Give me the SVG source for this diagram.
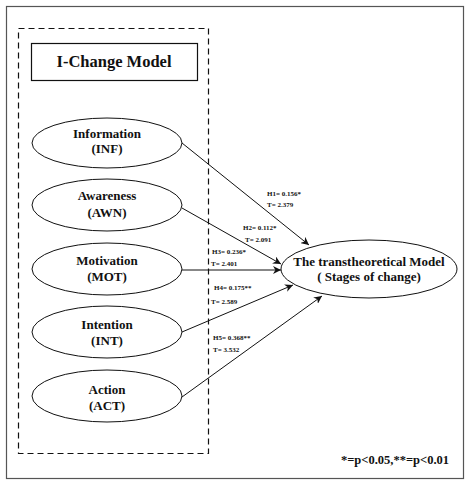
<svg xmlns="http://www.w3.org/2000/svg" width="469" height="484" viewBox="0 0 469 484">
<style>
text{font-family:"Liberation Serif","Times New Roman",serif;font-weight:bold;fill:#111;text-anchor:middle}
.node ellipse{fill:#fff;stroke:#111;stroke-width:1}
.lbl{font-size:7px;text-anchor:start}
.nt{font-size:13px}
.edge{stroke:#111;stroke-width:1;fill:none;marker-end:url(#ah)}
</style>
<defs>
<marker id="ah" viewBox="0 0 10 10" refX="10" refY="5" markerWidth="8" markerHeight="8" markerUnits="userSpaceOnUse" orient="auto">
<path d="M0,0 L10,5 L0,10 L3,5 z" fill="#111"/>
</marker>
</defs>
<rect x="0" y="0" width="469" height="484" fill="#fff"/>
<rect x="6.5" y="6.5" width="457" height="472" fill="none" stroke="#555" stroke-width="1.2"/>
<rect id="group-box" x="18.5" y="28.5" width="190" height="425" fill="none" stroke="#111" stroke-width="1.2" stroke-dasharray="6,4"/>
<g id="title">
<rect x="31.5" y="43.5" width="166" height="37" fill="#fff" stroke="#111" stroke-width="1.2"/>
<text x="114" y="67" font-size="16.5">I-Change Model</text>
</g>
<g id="connectors">
<line class="edge" x1="182" y1="143" x2="309" y2="245"/>
<line class="edge" x1="182" y1="208" x2="281" y2="264"/>
<line class="edge" x1="182" y1="270" x2="281" y2="270"/>
<line class="edge" x1="182" y1="332" x2="293" y2="285"/>
<line class="edge" x1="182" y1="397" x2="322" y2="296"/>
</g>
<g id="labels">
<text class="lbl" x="267" y="196">H1= 0.156*</text>
<text class="lbl" x="267" y="207">T= 2.379</text>
<text class="lbl" x="243" y="230">H2= 0.112*</text>
<text class="lbl" x="245" y="242">T= 2.091</text>
<text class="lbl" x="212" y="254">H3= 0.236*</text>
<text class="lbl" x="211" y="266">T= 2.401</text>
<text class="lbl" x="214" y="290">H4= 0.175**</text>
<text class="lbl" x="211" y="304">T= 2.589</text>
<text class="lbl" x="213" y="340">H5= 0.368**</text>
<text class="lbl" x="213" y="352">T= 3.532</text>
</g>
<g id="inf" class="node">
<ellipse cx="107" cy="143" rx="75" ry="25"/>
<text class="nt" x="107" y="138">Information</text>
<text class="nt" x="107" y="153">(INF)</text>
</g>
<g id="awn" class="node">
<ellipse cx="107" cy="205" rx="75" ry="26"/>
<text class="nt" x="107" y="200">Awareness</text>
<text class="nt" x="107" y="217">(AWN)</text>
</g>
<g id="mot" class="node">
<ellipse cx="107" cy="269" rx="75" ry="26"/>
<text class="nt" x="107" y="265">Motivation</text>
<text class="nt" x="107" y="281">(MOT)</text>
</g>
<g id="int" class="node">
<ellipse cx="107" cy="332" rx="75" ry="26"/>
<text class="nt" x="107" y="329">Intention</text>
<text class="nt" x="107" y="345">(INT)</text>
</g>
<g id="act" class="node">
<ellipse cx="107" cy="396" rx="75" ry="26"/>
<text class="nt" x="107" y="394">Action</text>
<text class="nt" x="107" y="410">(ACT)</text>
</g>
<g id="ttm" class="node">
<ellipse cx="369" cy="269" rx="88" ry="29"/>
<text class="nt" x="369" y="266" font-size="12.5">The transtheoretical Model</text>
<text class="nt" x="369" y="281" font-size="12.5">( Stages of change)</text>
</g>
<text x="395" y="464" font-size="12.5">*=p&lt;0.05,**=p&lt;0.01</text>
</svg>
